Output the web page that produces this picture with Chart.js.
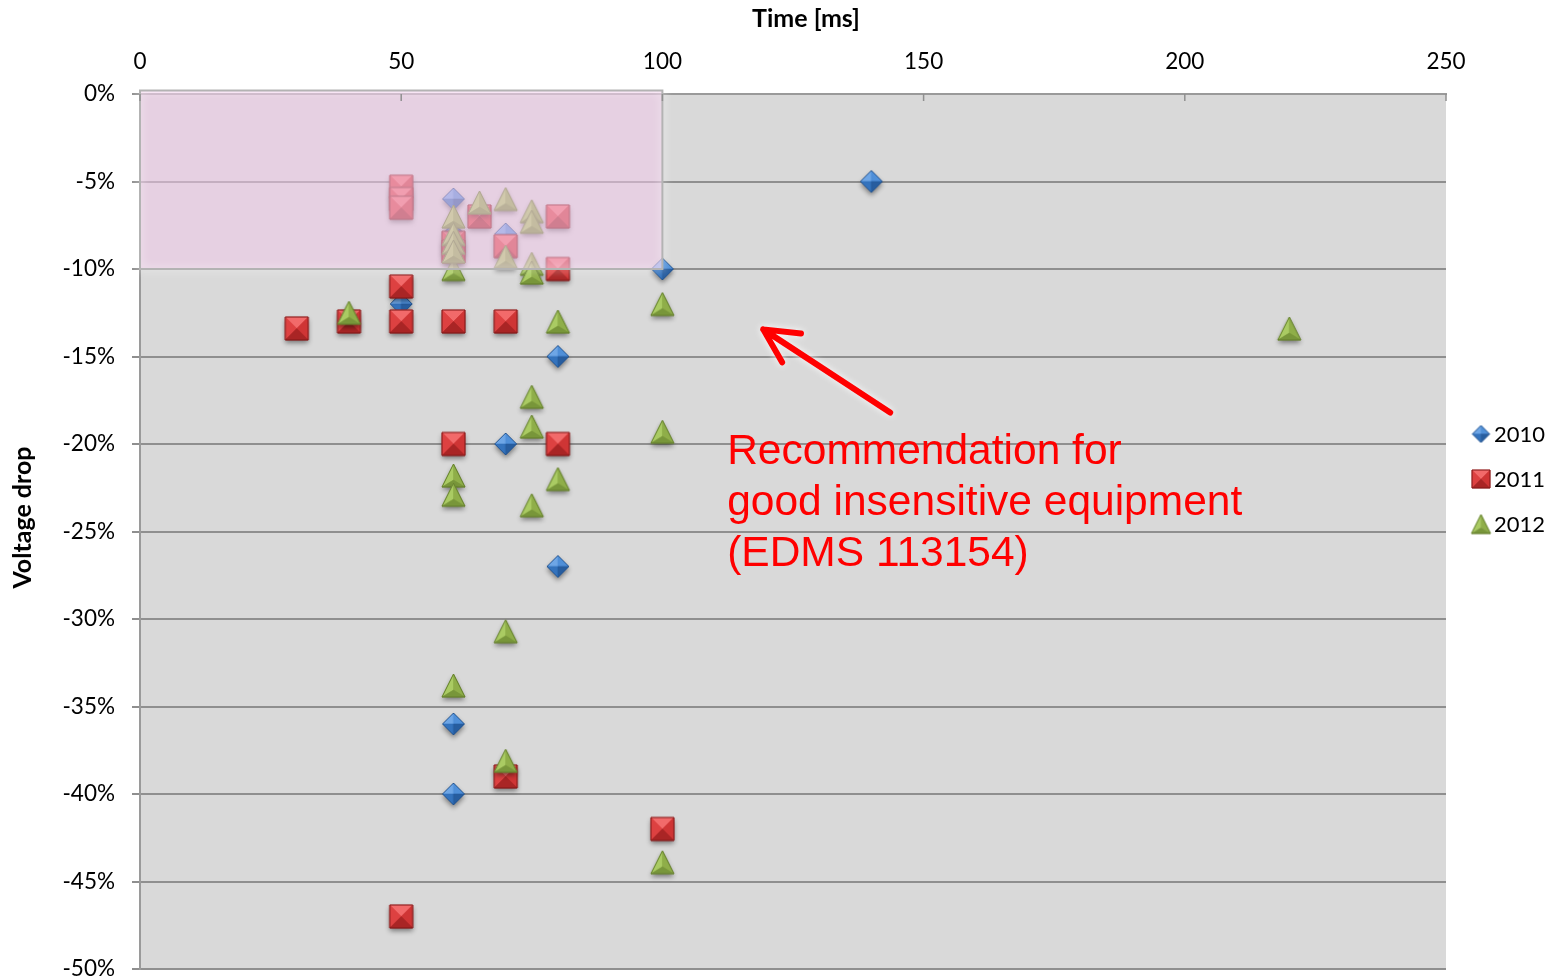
<!DOCTYPE html>
<html>
<head>
<meta charset="utf-8">
<title>Voltage drop vs. time</title>
<script src="https://cdn.jsdelivr.net/npm/chart.js@4.4.1/dist/chart.umd.min.js"></script>
<style>
  html, body { margin: 0; padding: 0; background: #ffffff; }
  #wrap { width: 1559px; height: 979px; position: relative; }
</style>
</head>
<body>
<div id="wrap"><canvas id="chart" width="1559" height="979"></canvas></div>
<script>
// ---- data: dip duration [ms] and voltage drop [%] per year ----
const seriesNames = ['2010', '2011', '2012'];

const time2010 = [140, 60, 60, 70, 100, 50, 80, 70, 80, 60, 60];
const drop2010 = [-5, -6, -8, -8, -10, -12, -15, -20, -27, -36, -40];

const time2011 = [50, 50, 50, 65, 80, 60, 60, 70, 80, 50, 30, 40, 50, 60, 70, 60, 80, 70, 100, 50];
const drop2011 = [-5.3, -6, -6.5, -7, -7, -8.5, -9, -8.7, -10, -11, -13.4, -13, -13, -13, -13, -20, -20, -39, -42, -47];

const time2012 = [40, 60, 60, 60, 60, 60, 65, 70, 75, 75, 70, 75, 75, 80, 100, 220, 75, 75, 100, 60, 60, 80, 75, 70, 60, 70, 100];
const drop2012 = [-12.5, -10, -7, -8, -8.5, -9, -6.2, -6, -6.7, -7.3, -9.3, -9.7, -10.2, -13, -12, -13.4, -17.3, -19, -19.3, -21.8, -22.9, -22, -23.5, -30.7, -33.8, -38.1, -43.9];

// axis ranges
const timeRange = [0, 250];
const timeStep = 50;
const dropRange = [-50, 0];
const dropStep = 5;

// recommended zone for insensitive equipment: up to 100 ms, down to -10 %
const zoneTime = [0, 100];
const zoneDrop = [0.2, -10];

// annotation
const noteLines = ['Recommendation for', 'good insensitive equipment', '(EDMS 113154)'];
const noteAt = { x: 112.4, y: -21.15 };
const arrowFrom = { x: 143.6, y: -18.2 };
const arrowTo = { x: 119.3, y: -13.45 };

const xTitle = 'Time [ms]';
const yTitle = 'Voltage drop';

// ---- bevelled marker sprites ----
const palette = {
  diamond:  { light: '#6ea6e6', midL: '#4f8fd8', midD: '#3473bd', dark: '#275d9f', edge: '#24548f' },
  rect:     { light: '#f26a6a', midL: '#dd4141', midD: '#cf3535', dark: '#a92525', edge: '#7e1818' },
  triangle: { light: '#aacb63', midL: '#a0c158', midD: '#8fae49', dark: '#78963a', edge: '#627d2c' }
};

function shapePoints(shape, cx, cy, s) {
  const h = s / 2;
  if (shape === 'diamond') return [[cx, cy - h], [cx + h, cy], [cx, cy + h], [cx - h, cy]];
  if (shape === 'rect') return [[cx - h, cy - h], [cx + h, cy - h], [cx + h, cy + h], [cx - h, cy + h]];
  return [[cx, cy - h], [cx + h, cy + h], [cx - h, cy + h]];
}

function poly(g, pts) {
  g.beginPath();
  g.moveTo(pts[0][0], pts[0][1]);
  for (let i = 1; i < pts.length; i++) g.lineTo(pts[i][0], pts[i][1]);
  g.closePath();
}

function makeMarker(shape, size, withShadow) {
  const pad = withShadow ? 9 : 2;
  const W = Math.ceil(size + pad * 2);
  const cv = document.createElement('canvas');
  cv.width = W; cv.height = W;
  const g = cv.getContext('2d');
  const cx = W / 2, cy = W / 2;
  const c = palette[shape];
  const pts = shapePoints(shape, cx, cy, size);

  if (withShadow) {
    g.save();
    g.shadowColor = 'rgba(0,0,0,0.45)';
    g.shadowBlur = 5;
    g.shadowOffsetY = 3;
    g.fillStyle = c.midD;
    poly(g, pts);
    g.fill();
    g.restore();
  }

  let center, facets;
  if (shape === 'triangle') {
    center = [cx, cy + size * 0.2];
    facets = [
      [pts[0], pts[2], c.light],
      [pts[0], pts[1], c.midD],
      [pts[2], pts[1], c.dark]
    ];
  } else if (shape === 'diamond') {
    center = [cx, cy];
    facets = [
      [pts[3], pts[0], c.light],
      [pts[0], pts[1], c.midL],
      [pts[2], pts[3], c.midD],
      [pts[1], pts[2], c.dark]
    ];
  } else {
    center = [cx, cy];
    facets = [
      [pts[0], pts[1], c.light],
      [pts[1], pts[2], c.midD],
      [pts[3], pts[0], c.midL],
      [pts[2], pts[3], c.dark]
    ];
  }
  facets.forEach(f => {
    g.fillStyle = f[2];
    poly(g, [f[0], f[1], center]);
    g.fill();
    g.strokeStyle = f[2];
    g.lineWidth = 0.6;
    g.stroke();
  });
  g.strokeStyle = c.edge;
  g.lineWidth = 1;
  poly(g, pts);
  g.stroke();
  return cv;
}

const markers = {
  '2010': makeMarker('diamond', 22, true),
  '2011': makeMarker('rect', 23, true),
  '2012': makeMarker('triangle', 23, true)
};
const legendMarkers = {
  '2010': makeMarker('diamond', 17, false),
  '2011': makeMarker('rect', 18, false),
  '2012': makeMarker('triangle', 19, false)
};

function pairs(xs, ys) {
  return xs.map((x, i) => ({ x: x, y: ys[i] }));
}

const FONT = 'Lato, "Open Sans", sans-serif';

// ---- plugins ----
const plotBackground = {
  id: 'plotBackground',
  beforeDraw(chart) {
    const a = chart.chartArea, g = chart.ctx;
    g.save();
    g.fillStyle = '#d9d9d9';
    g.fillRect(a.left, a.top, a.right - a.left, a.bottom - a.top);
    g.restore();
  }
};

const zoneOverlay = {
  id: 'zoneOverlay',
  afterDatasetsDraw(chart) {
    const xs = chart.scales.x, ys = chart.scales.y, g = chart.ctx;
    const x0 = xs.getPixelForValue(zoneTime[0]), x1 = xs.getPixelForValue(zoneTime[1]);
    const y0 = ys.getPixelForValue(zoneDrop[0]), y1 = ys.getPixelForValue(zoneDrop[1]);
    g.save();
    g.fillStyle = 'rgba(241, 201, 233, 0.55)';
    g.fillRect(x0, y0, x1 - x0, y1 - y0);
    g.shadowColor = 'rgba(255,255,255,0.9)';
    g.shadowBlur = 8;
    g.strokeStyle = '#b3b3b3';
    g.lineWidth = 2;
    g.strokeRect(x0, y0, x1 - x0, y1 - y0);
    g.restore();
  }
};

const decorations = {
  id: 'decorations',
  afterDraw(chart) {
    const xs = chart.scales.x, ys = chart.scales.y, g = chart.ctx;
    const a = chart.chartArea;

    // inner tick marks of the top time axis
    g.save();
    g.strokeStyle = '#8f8f8f';
    g.lineWidth = 1.5;
    xs.ticks.forEach(t => {
      const px = xs.getPixelForValue(t.value);
      g.beginPath();
      g.moveTo(px, a.top);
      g.lineTo(px, a.top + 7);
      g.stroke();
    });
    g.restore();

    // arrow pointing at the recommended zone
    const tx = xs.getPixelForValue(arrowFrom.x), ty = ys.getPixelForValue(arrowFrom.y);
    const hx = xs.getPixelForValue(arrowTo.x), hy = ys.getPixelForValue(arrowTo.y);
    const ang = Math.atan2(ty - hy, tx - hx);
    const armLen = 38, spread = 0.47;
    g.save();
    g.shadowColor = 'rgba(255,255,255,0.95)';
    g.shadowBlur = 7;
    g.strokeStyle = '#ff0000';
    g.lineWidth = 6;
    g.lineCap = 'round';
    g.lineJoin = 'round';
    g.beginPath();
    g.moveTo(tx, ty);
    g.lineTo(hx, hy);
    g.moveTo(hx + armLen * Math.cos(ang - spread), hy + armLen * Math.sin(ang - spread));
    g.lineTo(hx, hy);
    g.lineTo(hx + armLen * Math.cos(ang + spread), hy + armLen * Math.sin(ang + spread));
    g.stroke();
    g.restore();

    // annotation text
    const nx = xs.getPixelForValue(noteAt.x), ny = ys.getPixelForValue(noteAt.y);
    g.save();
    g.fillStyle = '#ff0000';
    g.font = '42.5px "Liberation Sans", Arial, sans-serif';
    g.textAlign = 'left';
    g.textBaseline = 'alphabetic';
    noteLines.forEach((line, i) => g.fillText(line, nx, ny + i * 51));
    g.restore();

    // axis titles
    g.save();
    g.fillStyle = '#000000';
    g.font = 'bold 25px ' + FONT;
    g.textAlign = 'center';
    g.textBaseline = 'middle';
    g.fillText(xTitle, (a.left + a.right) / 2 + 13, 19);
    g.translate(23, (a.top + a.bottom) / 2 - 14);
    g.rotate(-Math.PI / 2);
    g.fillText(yTitle, 0, 0);
    g.restore();

    // legend
    g.save();
    g.font = '22px ' + FONT;
    g.fillStyle = '#000000';
    g.textAlign = 'left';
    g.textBaseline = 'middle';
    const lx = 1481, ly0 = 434, lStep = 45;
    chart.data.datasets.forEach((ds, i) => {
      const m = legendMarkers[ds.label];
      const yy = ly0 + i * lStep;
      g.drawImage(m, lx - m.width / 2, yy - m.height / 2);
      g.fillText(ds.label, lx + 13, yy + 1);
    });
    g.restore();
  }
};

const datasets = [
  { label: seriesNames[0], data: pairs(time2010, drop2010), pointStyle: markers['2010'], order: 2 },
  { label: seriesNames[1], data: pairs(time2011, drop2011), pointStyle: markers['2011'], order: 1 },
  { label: seriesNames[2], data: pairs(time2012, drop2012), pointStyle: markers['2012'], order: 0 }
];
datasets.forEach(d => {
  d.pointRadius = 12;
  d.pointHoverRadius = 12;
  d.showLine = false;
  d.clip = false;
});

new Chart(document.getElementById('chart'), {
  type: 'scatter',
  data: { datasets: datasets },
  options: {
    responsive: false,
    animation: false,
    devicePixelRatio: 1,
    layout: { autoPadding: false, padding: { left: 0, right: 113, top: 0, bottom: 10 } },
    plugins: {
      legend: { display: false },
      tooltip: { enabled: false }
    },
    scales: {
      x: {
        type: 'linear',
        position: 'top',
        min: timeRange[0],
        max: timeRange[1],
        ticks: { stepSize: timeStep, color: '#000', font: { family: FONT, size: 22.5 }, padding: 19, maxRotation: 0 },
        grid: { drawOnChartArea: false, drawTicks: false },
        border: { display: true, color: '#9a9a9a', width: 2 },
        afterFit(s) { s.height = 94; s.paddingLeft = 0; s.paddingRight = 0; }
      },
      y: {
        type: 'linear',
        min: dropRange[0],
        max: dropRange[1],
        ticks: {
          stepSize: dropStep,
          color: '#000',
          font: { family: FONT, size: 22.5 },
          padding: 17,
          autoSkip: false,
          callback: v => v + '%'
        },
        grid: { color: '#8f8f8f', lineWidth: 2, tickLength: 8, drawTicks: true },
        border: { display: true, color: '#9a9a9a', width: 2 },
        afterFit(s) { s.width = 140; s.paddingTop = 0; s.paddingBottom = 0; }
      }
    }
  },
  plugins: [plotBackground, zoneOverlay, decorations]
});
</script>
</body>
</html>
